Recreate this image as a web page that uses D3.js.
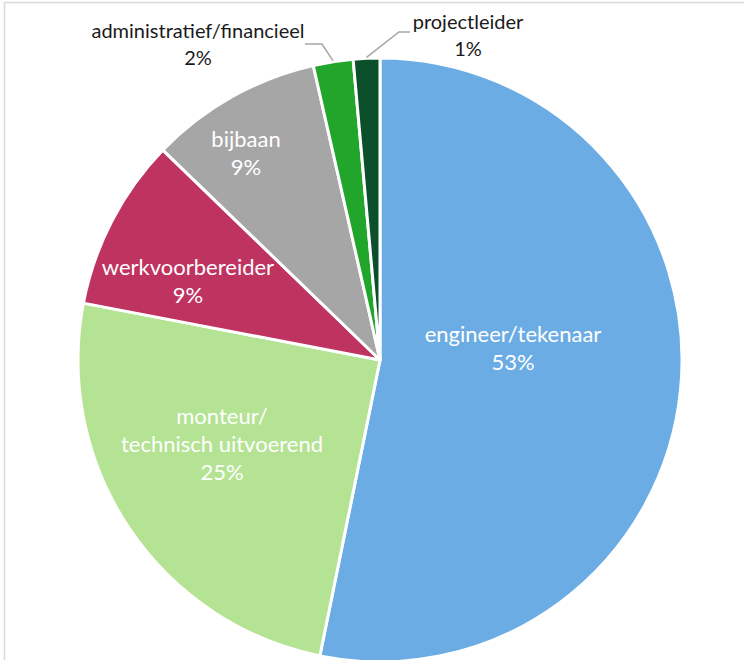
<!DOCTYPE html>
<html>
<head>
<meta charset="utf-8">
<script src="https://cdn.jsdelivr.net/npm/d3@7"></script>
<style>
  html, body { margin: 0; padding: 0; background: #fff; }
  svg { display: block; }
</style>
</head>
<body>
<div id="chart"></div>
<script>
// data (counts per role)
var categories = ['engineer/tekenaar', 'monteur/\ntechnisch uitvoerend', 'werkvoorbereider', 'bijbaan', 'administratief/financieel', 'projectleider'];
var values = [75, 35, 13, 13, 3, 2];
var colors = ['#6cace4', '#b4e394', '#bf3360', '#a6a6a6', '#21a62b', '#0b4f2b'];

// label layout: inside labels sit in the slice, outside ones get a leader line
var labelPos = [[513, 333], [222, 415], [188, 266], [246, 138], [198, 30], [468, 21]];
var outside = [false, false, false, false, true, true];
// leader line elbows (label end, corner)
var leaders = { 4: [[305, 44], [322, 44]], 5: [[410, 32], [399, 32]] };

var width = 744, height = 660;
var cx = 380, cy = 360, radius = 302;

var svg = d3.select('#chart').append('svg')
    .attr('width', width)
    .attr('height', height);

// chart area border (cut off right/bottom like the source)
svg.append('rect')
    .attr('x', 4.5).attr('y', 2.5)
    .attr('width', width + 20).attr('height', height + 20)
    .attr('fill', 'none')
    .attr('stroke', '#d9d9d9')
    .attr('stroke-width', 1.5);

var total = d3.sum(values);
var data = values.map(function(v, i){ return {name: categories[i], value: v, i: i}; });

var pie = d3.pie()
    .value(function(d){ return d.value; })
    .sort(null)
    .startAngle(0)
    .endAngle(2 * Math.PI);

var arc = d3.arc().innerRadius(0).outerRadius(radius);

var g = svg.append('g').attr('transform', 'translate(' + cx + ',' + cy + ')');

var arcs = pie(data);

g.selectAll('path')
    .data(arcs)
    .enter().append('path')
    .attr('d', arc)
    .attr('fill', function(d){ return colors[d.data.i]; })
    .attr('stroke', '#fff')
    .attr('stroke-width', 3)
    .attr('stroke-linejoin', 'round');

// leader lines for the small slices
arcs.forEach(function(d){
    var pts = leaders[d.data.i];
    if (!pts) return;
    var a = (d.startAngle + d.endAngle) / 2;
    var p = [cx + Math.sin(a) * (radius + 1), cy - Math.cos(a) * (radius + 1)];
    svg.append('polyline')
        .attr('points', [pts[0], pts[1], p].map(function(q){ return q.join(','); }).join(' '))
        .attr('fill', 'none')
        .attr('stroke', '#a6a6a6')
        .attr('stroke-width', 1.5);
});

var labels = svg.append('g')
    .attr('font-family', 'Lato, "Open Sans", sans-serif')
    .attr('text-anchor', 'middle');

arcs.forEach(function(d){
    var i = d.data.i;
    var lines = d.data.name.split('\n');
    lines.push(Math.round(d.data.value / total * 100) + '%');
    var t = labels.append('text')
        .attr('x', labelPos[i][0])
        .attr('y', labelPos[i][1])
        .attr('font-size', outside[i] ? 20 : 22)
        .attr('dominant-baseline', 'central')
        .attr('fill', outside[i] ? '#1a1a1a' : '#fff');
    lines.forEach(function(l, k){
        t.append('tspan')
            .attr('x', labelPos[i][0])
            .attr('dy', k === 0 ? 0 : (outside[i] ? 27 : 28))
            .text(l);
    });
});
</script>
</body>
</html>
